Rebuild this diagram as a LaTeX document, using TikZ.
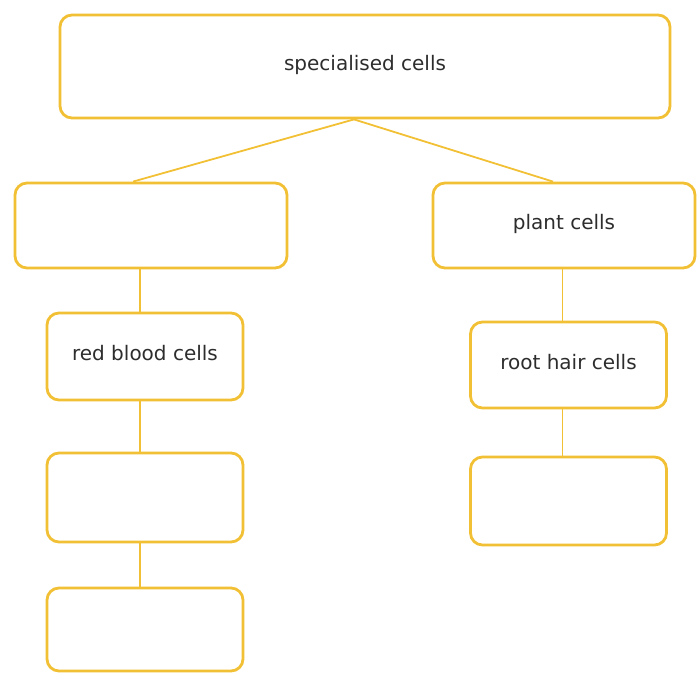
\documentclass[tikz,border=0pt]{standalone}
\usepackage{fontspec}
\setmainfont{DejaVu Sans}
\usepackage{xcolor}
\usepackage{tikz}
\usetikzlibrary{positioning,calc}

\definecolor{cellgold}{RGB}{242,192,52}
\definecolor{celltext}{RGB}{45,45,45}

\begin{document}
\begin{tikzpicture}[x=1pt, y=-1pt,
            cellbox/.style={draw=cellgold, line width=2.8pt, rectangle, rounded corners=12pt,
                 minimum width=196pt, minimum height=87pt, align=center, text=celltext,
                 font=\fontsize{20}{24}\selectfont, text depth=7pt, inner sep=0pt},
            link/.style={draw=cellgold, line width=1.8pt}
            ]
            \useasboundingbox (0,0) rectangle (697,673);

            % Nodes with manual coordinates
            \node[cellbox, minimum width=610pt, minimum height=103pt] (top) at (365,66.5) {specialised cells};
            \node[cellbox, minimum width=272pt, minimum height=85pt] (animal) at (151,225.5) {};
            \node[cellbox, minimum width=262pt, minimum height=85pt] (plant) at (564,225.5) {plant cells};
            \node[cellbox] (rbc) at (145,356.5) {red blood cells};
            \node[cellbox, minimum height=89pt] (lefta) at (145,497.5) {};
            \node[cellbox, minimum height=83pt] (leftb) at (145,629.5) {};
            \node[cellbox, minimum height=86pt] (roothair) at (568.5,365) {root hair cells};
            \node[cellbox, minimum height=88pt] (righta) at (568.5,501) {};

            % Lines
            \coordinate (apex) at ([xshift=-11pt]top.south);
            \draw[link] (apex) -- ([xshift=-18pt]animal.north);
            \draw[link] (apex) -- ([xshift=-11pt]plant.north);
            \draw[link] ([xshift=-5pt]rbc.north) -- ([xshift=-5pt]rbc.north |- animal.south);
            \draw[link] ([xshift=-5pt]rbc.south) -- ([xshift=-5pt]rbc.south |- lefta.north);
            \draw[link] ([xshift=-5pt]lefta.south) -- ([xshift=-5pt]lefta.south |- leftb.north);
            \draw[link] ([xshift=-6pt]roothair.north) -- ([xshift=-6pt]roothair.north |- plant.south);
            \draw[link] ([xshift=-6pt]roothair.south) -- ([xshift=-6pt]roothair.south |- righta.north);
        \end{tikzpicture}
\end{document}
